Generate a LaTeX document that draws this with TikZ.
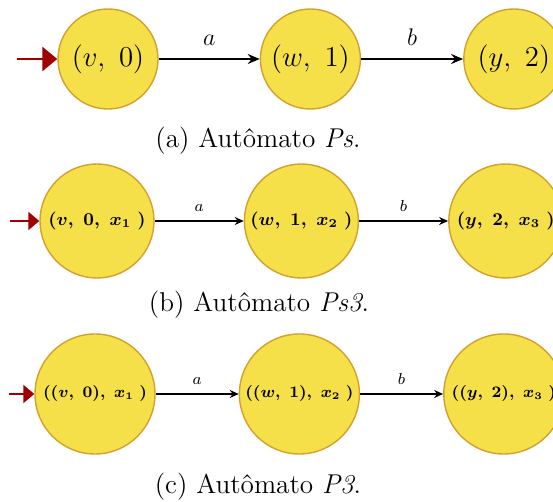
\documentclass[tikz,border=0pt]{standalone}
\usepackage{amsmath,amssymb}
\usepackage{xcolor}
\usepackage{tikz}
\usetikzlibrary{arrows.meta, positioning}
\definecolor{C_FILL}{HTML}{F5E04A}
\definecolor{C_EDGE}{HTML}{D4A02C}
\definecolor{C_INIT}{HTML}{A00000}

\begin{document}
\begin{tikzpicture}[
  x=0.5pt, y=-0.5pt,
  state/.style={circle, draw=C_EDGE, fill=C_FILL, line width=0.7pt,
                inner sep=0pt, text=black},
  stA/.style={state, minimum size=50pt, font=\fontsize{15}{17}\selectfont},
  stB/.style={state, minimum size=57pt, font=\small\boldmath},
  stC/.style={state, minimum size=60pt, font=\fontsize{7.6}{9}\selectfont\boldmath},
  trans/.style={-{Stealth[length=6pt, width=5pt, inset=2pt]}, line width=0.9pt},
  transs/.style={-{Stealth[length=4.5pt, width=4pt, inset=1.5pt]}, line width=0.6pt},
  init/.style={-{Triangle[length=7.5pt, width=12pt]}, line width=1.4pt, C_INIT},
  inits/.style={-{Triangle[length=5.5pt, width=9pt]}, line width=1.1pt, C_INIT},
  caption/.style={font=\fontsize{13.6}{16}\selectfont},
]
\useasboundingbox (0,0) rectangle (553,502);

%% (a) automaton Ps
\node[stA] (v0) at (108,59) {$(v,\ 0)$};
\node[stA, right=50.5pt of v0] (w1) {$(w,\ 1)$};
\node[stA, right=51pt of w1] (y2) {$(y,\ 2)$};
\coordinate (ia) at (17,59);
\draw[init] (ia) -- (v0);
\draw[trans] (v0) -- node[above, yshift=3pt, font=\large]{$a$} (w1);
\draw[trans] (w1) -- node[above, yshift=3pt, font=\large]{$b$} (y2);
\node[caption] (capa) at (258,141) {(a) Autômato \textit{Ps}.};

%% (b) automaton Ps3
\node[stB] (v0x) at (97,221) {$(v,\ 0,\ x_1\ )$};
\node[stB, right=44.5pt of v0x] (w1x) {$(w,\ 1,\ x_2\ )$};
\node[stB, right=44.5pt of w1x] (y2x) {$(y,\ 2,\ x_3\ )$};
\coordinate (ib) at (10,221);
\draw[inits] (ib) -- (v0x);
\draw[transs] (v0x) -- node[above, yshift=1pt, font=\footnotesize]{$a$} (w1x);
\draw[transs] (w1x) -- node[above, yshift=1pt, font=\footnotesize]{$b$} (y2x);
\node[caption] (capb) at (259,305) {(b) Autômato \textit{Ps3}.};

%% (c) automaton P3
\node[stC] (pv0) at (95,394) {$((v,\ 0),\ x_1\ )$};
\node[stC, right=41.5pt of pv0] (pw1) {$((w,\ 1),\ x_2\ )$};
\node[stC, right=41.5pt of pw1] (py2) {$((y,\ 2),\ x_3\ )$};
\coordinate (ic) at (9,394);
\draw[inits] (ic) -- (pv0);
\draw[transs] (pv0) -- node[above, yshift=1pt, font=\footnotesize]{$a$} (pw1);
\draw[transs] (pw1) -- node[above, yshift=1pt, font=\footnotesize]{$b$} (py2);
\node[caption] (capc) at (258,487) {(c) Autômato \textit{P3}.};

\end{tikzpicture}
\end{document}
